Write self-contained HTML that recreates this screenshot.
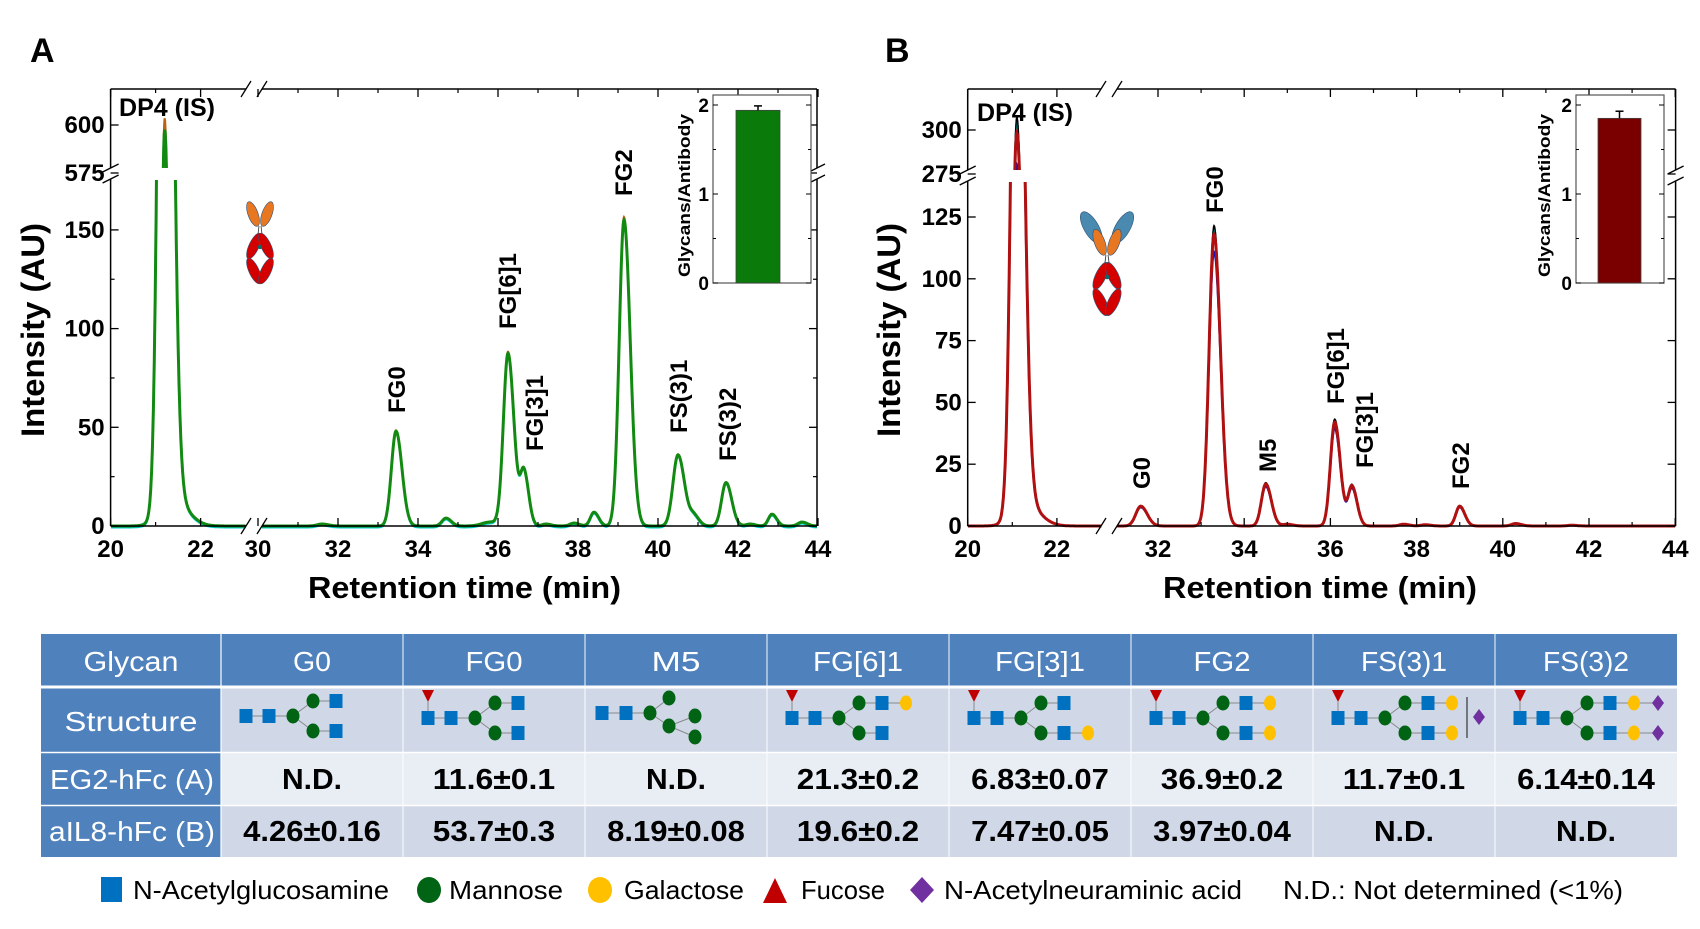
<!DOCTYPE html>
<html><head><meta charset="utf-8">
<style>
html,body{margin:0;padding:0;background:#fff;width:1700px;height:929px;overflow:hidden;}
svg{display:block;}
text{font-family:"Liberation Sans",sans-serif;}
</style></head>
<body>
<svg id="s" width="1700" height="929" viewBox="0 0 1700 929" xmlns="http://www.w3.org/2000/svg">
<defs>
<clipPath id="aLo"><rect x="111" y="180" width="706" height="350"/></clipPath>
<clipPath id="aHi"><rect x="111" y="89" width="706" height="79"/></clipPath>
<clipPath id="bLo"><rect x="968" y="182" width="707" height="348"/></clipPath>
<clipPath id="bHi"><rect x="968" y="89" width="707" height="81"/></clipPath>
</defs>
<g id="plots"></g>
<text x="30" y="62" font-size="34" font-weight="bold">A</text>
<text x="885" y="62" font-size="34" font-weight="bold">B</text>
</svg>
<script>
(function(){
var out=[];
function t(x,y,s,o){o=o||{};var a='<text x="'+x+'" y="'+y+'" font-size="'+(o.fs||22)+'"'+(o.b===false?'':' font-weight="bold"')+(o.anchor?' text-anchor="'+o.anchor+'"':'')+(o.fill?' fill="'+o.fill+'"':'')+(o.tl?' textLength="'+o.tl+'" lengthAdjust="spacingAndGlyphs"':'')+(o.rot?' transform="rotate(-90 '+x+' '+y+')"':'')+'>'+s+'</text>';out.push(a);}
function line(x1,y1,x2,y2,c,w){out.push('<line x1="'+x1+'" y1="'+y1+'" x2="'+x2+'" y2="'+y2+'" stroke="'+(c||'#000')+'" stroke-width="'+(w||1.5)+'"/>');}
function sig(tm,peaks){var v=0;for(var i=0;i<peaks.length;i++){var p=peaks[i];var d=tm-p[0];var s=d>0?p[2]*1.3:p[2];v+=p[1]*Math.exp(-d*d/(2*s*s));}return v;}
function panel(P){
  var segs=P.segs,cols=P.cols;
  for(var ci=0;ci<cols.length;ci++){
    var col=cols[ci];
    ['lo','hi'].forEach(function(part){
      var d='';
      segs.forEach(function(sg){
        var first=true;
        for(var tm=sg[0];tm<=sg[1]+1e-9;tm+=0.01){
          var v=sig(tm,P.peaks)*col[2];
          var x=P.xm(tm);var y=part=='lo'?P.ylo(v):P.yhi(v);
          if(y<-500)y=-500;
          d+=(first?'M':'L')+x.toFixed(1)+' '+(y+col[1]).toFixed(1);first=false;
        }
      });
      out.push('<path d="'+d+'" fill="none" stroke="'+col[0]+'" stroke-width="'+(col[3]||2.2)+'" clip-path="url(#'+P.id+(part=='lo'?'Lo':'Hi')+')"/>');
    });
  }
  var L=P.L,R=P.R,T=89,B=526,bx1=P.bx1,bx2=P.bx2,by1=P.by1,by2=P.by2;
  line(L,B,bx1,B);line(bx2,B,R,B);line(L,T,bx1,T);line(bx2,T,R,T);
  line(L,T,L,by1);line(L,by2,L,B);line(R,T,R,by1);line(R,by2,R,B);
  [[bx1,B],[bx2,B],[bx1,T],[bx2,T]].forEach(function(p){line(p[0]-5,p[1]+8,p[0]+5,p[1]-8,'#000',1.3);});
  [[L,by1],[L,by2],[R,by1],[R,by2]].forEach(function(p){line(p[0]-8,p[1]+4,p[0]+8,p[1]-4,'#000',1.3);});
  P.xt.forEach(function(v){var x=P.xm(v);line(x,B,x,B-8,'#000',1.3);line(x,T,x,T+8,'#000',1.3);t(x,557,String(v),{anchor:'middle',fs:24});});
  P.xminor.forEach(function(v){var x=P.xm(v);line(x,B,x,B-4,'#000',1.2);line(x,T,x,T+4,'#000',1.2);});
  P.yt.forEach(function(v){var y=P.ylo(v);line(L,y,L+8,y,'#000',1.3);line(R,y,R-8,y,'#000',1.3);t(L-6,y+8,String(v),{anchor:'end',fs:24});});
  P.yth.forEach(function(v){var y=P.yhi(v);line(L,y,L+8,y,'#000',1.3);line(R,y,R-8,y,'#000',1.3);t(L-6,y+8,String(v),{anchor:'end',fs:24});});
  P.yminor.forEach(function(v){var y=P.ylo(v);line(L,y,L+4,y,'#000',1.2);line(R,y,R-4,y,'#000',1.2);});
  t(P.xtitle[0],598,'Retention time (min)',{fs:31,tl:P.xtitle[1]-P.xtitle[0]});
  t(P.ytx,437,'Intensity (AU)',{fs:32,rot:1,tl:214});
  t(P.dp[0],P.dp[2],'DP4 (IS)',{fs:25,tl:P.dp[1]-P.dp[0]});
  P.labels.forEach(function(l){t(l[0]+9,l[1],l[2],{fs:24,rot:1});});
  var I=P.inset;
  out.push('<rect x="'+I.x1+'" y="95" width="'+(I.x2-I.x1)+'" height="188" fill="#fff" stroke="#555" stroke-width="1.2"/>');
  var ym=function(v){return 283-v*89;};
  out.push('<rect x="'+I.b1+'" y="'+ym(I.h)+'" width="'+(I.b2-I.b1)+'" height="'+(283-ym(I.h))+'" fill="'+I.c+'" stroke="#444" stroke-width="0.8"/>');
  var cx=(I.b1+I.b2)/2;line(cx,ym(I.h),cx,ym(I.e),'#000',1.5);line(cx-4,ym(I.e),cx+4,ym(I.e),'#000',1.5);
  [0,1,2].forEach(function(v){line(I.x1,ym(v),I.x1+5,ym(v),'#000',1);line(I.x2,ym(v),I.x2-5,ym(v),'#000',1);t(I.x1-4,ym(v)+7,String(v),{anchor:'end',fs:19});});
  [0.5,1.5].forEach(function(v){line(I.x1,ym(v),I.x1+3,ym(v),'#000',1);line(I.x2,ym(v),I.x2-3,ym(v),'#000',1);});
  t(I.lx+7,277,'Glycans/Antibody',{fs:17,rot:1,tl:163});
}
var xa=function(tm){return tm<26?110.6+(tm-20)*45:258+(tm-30)*40;};
panel({id:'a',L:110.6,R:817,bx1:246,bx2:262,by1:168,by2:179,
 xm:xa,ylo:function(v){return 526-v*1.974;},yhi:function(v){return 173-(v-575)*1.92;},
 segs:[[20,23.0],[30.1,44]],
 peaks:[[21.2,585,0.115],[21.35,15,0.25],[31.6,1,0.12],[33.45,48,0.115],[34.7,4,0.1],[35.8,2,0.2],[36.25,87,0.115],[36.65,27,0.09],[37.2,1,0.1],[37.9,1.5,0.1],[38.4,7,0.09],[39.15,155,0.12],[40.5,36,0.125],[40.9,5,0.1],[41.7,22,0.11],[42.3,1,0.1],[42.85,6,0.09],[43.6,2,0.1]],
 cols:[['#00d0d0',1.5,1.0,2],['#c06010',0,1.01,2],['#128a12',0,1.0,3]],
 xt:[20,22,30,32,34,36,38,40,42,44],xminor:[21,31,33,35,37,39,41,43],
 yt:[0,50,100,150],yth:[575,600],yminor:[25,75,125],
 xtitle:[308,621],ytx:44,dp:[119,215,116],
 labels:[[396,413,'FG0'],[507,329,'FG[6]1'],[534,451,'FG[3]1'],[623,196,'FG2'],[678,433,'FS(3)1'],[727,461,'FS(3)2']],
 inset:{x1:713,x2:811,b1:736,b2:780,h:1.94,e:1.99,c:'#0a7a0a',lx:683}
});
var xb=function(tm){return tm<26?967.7+(tm-20)*44.6:1158+(tm-32)*43.1;};
panel({id:'b',L:967.7,R:1675.6,bx1:1101,bx2:1117,by1:170,by2:181,
 xm:xb,ylo:function(v){return 526-v*2.472;},yhi:function(v){return 174-(v-275)*1.76;},
 segs:[[20,23.0],[31.05,44]],
 peaks:[[21.1,290,0.115],[21.25,10,0.25],[31.6,8,0.115],[33.3,118,0.115],[34.5,17,0.1],[35.0,0.7,0.1],[36.1,42,0.1],[36.5,16,0.09],[37.7,0.7,0.1],[38.2,0.5,0.1],[39.0,8,0.09],[40.3,1,0.1],[41.6,0.3,0.1]],
 cols:[['#1010c0',0,0.94,2],['#00c0c0',0,1.02,2],['#000',0,1.03,1.5],['#b01010',0,1.0,3]],
 xt:[20,22,32,34,36,38,40,42,44],xminor:[21,33,35,37,39,41,43],
 yt:[0,25,50,75,100,125],yth:[275,300],yminor:[],
 xtitle:[1163,1477],ytx:900,dp:[977,1073,121],
 labels:[[1141,489,'G0'],[1214,213,'FG0'],[1267,472,'M5'],[1335,404,'FG[6]1'],[1364,468,'FG[3]1'],[1460,489,'FG2']],
 inset:{x1:1576,x2:1664,b1:1598,b2:1641,h:1.85,e:1.93,c:'#7a0000',lx:1543}
});
function ab(x,y,s,b){
 var g='<g transform="translate('+x+','+y+') scale('+s+')">';
 if(b){g+='<ellipse cx="-15" cy="-8" rx="7" ry="17" transform="rotate(-30 -15 -8)" fill="#4a8ab0" stroke="#357" stroke-width="0.6"/><ellipse cx="15" cy="-8" rx="7" ry="17" transform="rotate(30 15 -8)" fill="#4a8ab0" stroke="#357" stroke-width="0.6"/>';}
 g+='<ellipse cx="-7" cy="6" rx="5" ry="13" transform="rotate(-20 -7 6)" fill="#e87722" stroke="#357" stroke-width="0.6"/><ellipse cx="7" cy="6" rx="5" ry="13" transform="rotate(20 7 6)" fill="#e87722" stroke="#357" stroke-width="0.6"/>';
 g+='<line x1="-1" y1="18" x2="-2" y2="26" stroke="#333" stroke-width="0.8"/><line x1="1" y1="18" x2="2" y2="26" stroke="#333" stroke-width="0.8"/>';
 g+='<ellipse cx="-6" cy="38" rx="5" ry="14" transform="rotate(25 -6 38)" fill="#d40000" stroke="#357" stroke-width="0.6"/><ellipse cx="6" cy="38" rx="5" ry="14" transform="rotate(-25 6 38)" fill="#d40000" stroke="#357" stroke-width="0.6"/>';
 g+='<ellipse cx="-6" cy="63" rx="5" ry="14" transform="rotate(-25 -6 63)" fill="#d40000" stroke="#357" stroke-width="0.6"/><ellipse cx="6" cy="63" rx="5" ry="14" transform="rotate(25 6 63)" fill="#d40000" stroke="#357" stroke-width="0.6"/>';
 g+='<circle cx="0" cy="39" r="2.2" fill="#0a6a6a"/></g>';out.push(g);}
ab(260,208,1,false);ab(1107,236,1.05,true);

var X0=41,X1=221,XE=1677,W=182;
var rows=[[634,686,'#4f81bd'],[688,752,'#d0d8e8'],[753,805,'#e9edf4'],[806,857,'#d0d8e8']];
rows.forEach(function(r){out.push('<rect x="'+X1+'" y="'+r[0]+'" width="'+(XE-X1)+'" height="'+(r[1]-r[0])+'" fill="'+r[2]+'"/>');out.push('<rect x="'+X0+'" y="'+r[0]+'" width="'+(X1-X0)+'" height="'+(r[1]-r[0])+'" fill="#4f81bd"/>');});
for(var i=1;i<8;i++){var x=X1+i*W;out.push('<line x1="'+x+'" y1="634" x2="'+x+'" y2="857" stroke="#fff" stroke-width="1.2" opacity="0.8"/>');}
out.push('<line x1="'+X1+'" y1="634" x2="'+X1+'" y2="857" stroke="#fff" stroke-width="1.2"/>');
[752.5,805.5].forEach(function(y){out.push('<line x1="41" y1="'+y+'" x2="1677" y2="'+y+'" stroke="#fff" stroke-width="1.5"/>');});
out.push('<line x1="41" y1="687" x2="1677" y2="687" stroke="#fff" stroke-width="3"/>');
var hdr=['G0','FG0','M5','FG[6]1','FG[3]1','FG2','FS(3)1','FS(3)2'];
var hw=[38,57,49,90,90,57,86,86];
var ra=['N.D.','11.6±0.1','N.D.','21.3±0.2','6.83±0.07','36.9±0.2','11.7±0.1','6.14±0.14'];
var rb=['4.26±0.16','53.7±0.3','8.19±0.08','19.6±0.2','7.47±0.05','3.97±0.04','N.D.','N.D.'];
function cw(s,base){return s=='N.D.'?60:(s.length*base);}
t(131,671,'Glycan',{fs:28,b:false,anchor:'middle',fill:'#fff',tl:95});
t(131,731,'Structure',{fs:28,b:false,anchor:'middle',fill:'#fff',tl:133});
t(132,789,'EG2-hFc (A)',{fs:28,b:false,anchor:'middle',fill:'#fff',tl:164});
t(132,841,'aIL8-hFc (B)',{fs:28,b:false,anchor:'middle',fill:'#fff',tl:166});
hdr.forEach(function(h,i){var cx=X1+i*W+W/2;t(cx,671,h,{fs:28,b:false,anchor:'middle',fill:'#fff',tl:hw[i]});
 t(cx,789,ra[i],{fs:29,anchor:'middle',tl:cw(ra[i],15.3)});
 t(cx,841,rb[i],{fs:29,anchor:'middle',tl:cw(rb[i],15.3)});});
function sq(x,y){out.push('<rect x="'+(x-6.5)+'" y="'+(y-7)+'" width="13" height="14" fill="#0070c0"/>');}
function man(x,y){out.push('<ellipse cx="'+x+'" cy="'+y+'" rx="6.5" ry="7.5" fill="#006414"/>');}
function gal(x,y){out.push('<ellipse cx="'+x+'" cy="'+y+'" rx="6" ry="7.5" fill="#ffc000"/>');}
function dia(x,y){out.push('<polygon points="'+x+','+(y-8)+' '+(x+6)+','+y+' '+x+','+(y+8)+' '+(x-6)+','+y+'" fill="#7030a0"/>');}
function fuc(x,y){out.push('<line x1="'+x+'" y1="'+y+'" x2="'+x+'" y2="'+(y+16)+'" stroke="#888" stroke-width="1"/><polygon points="'+(x-6)+','+(y-12)+' '+(x+6)+','+(y-12)+' '+x+','+y+'" fill="#c00000"/>');}
function ln(a,b,c,d){out.push('<line x1="'+a+'" y1="'+b+'" x2="'+c+'" y2="'+d+'" stroke="#888" stroke-width="1"/>');}
function glycan(i,opt){
 var L=X1+i*W, cy=opt.fuc?718:716, up=cy-15, dn=cy+15;
 var x1=L+25,x2=L+48,xm=L+72,xb=L+92,xs=L+115,xg=L+139,xd=L+163;
 ln(x1,cy,xm,cy);ln(xm,cy,xb,up);ln(xm,cy,xb,dn);
 var ue=opt.u,de=opt.d;
 ln(xb,up,[xb,xs,xg,xd][ue],up);ln(xb,dn,[xb,xs,xg,xd][de],dn);
 if(opt.fuc)fuc(x1,cy-16);
 sq(x1,cy);sq(x2,cy);man(xm,cy);man(xb,up);man(xb,dn);
 if(ue>=1)sq(xs,up);if(de>=1)sq(xs,dn);
 if(ue>=2)gal(xg,up);if(de>=2)gal(xg,dn);
 if(ue>=3)dia(xd,up);if(de>=3)dia(xd,dn);
 if(opt.fs1){out.push('<line x1="'+(L+154)+'" y1="697" x2="'+(L+154)+'" y2="738" stroke="#333" stroke-width="1.2"/>');dia(L+166,717);}
}
glycan(0,{u:1,d:1});
glycan(1,{fuc:1,u:1,d:1});
(function(){var L=X1+2*W;var cy=713;ln(L+17,cy,L+65,cy);ln(L+65,cy,L+84,698);ln(L+65,cy,L+84,726);ln(L+84,726,L+110,716);ln(L+84,726,L+110,737);
 sq(L+17,cy);sq(L+41,cy);man(L+65,cy);man(L+84,698);man(L+84,726);man(L+110,716);man(L+110,737);})();
glycan(3,{fuc:1,u:2,d:1});
glycan(4,{fuc:1,u:1,d:2});
glycan(5,{fuc:1,u:2,d:2});
glycan(6,{fuc:1,u:2,d:2,fs1:1});
glycan(7,{fuc:1,u:3,d:3});
out.push('<rect x="101" y="877" width="21" height="25" fill="#0070c0"/>');
t(133,899,'N-Acetylglucosamine',{fs:26,b:false,tl:256});
out.push('<ellipse cx="429" cy="890" rx="12" ry="13" fill="#006414"/>');
t(449,899,'Mannose',{fs:26,b:false,tl:114});
out.push('<ellipse cx="600" cy="890" rx="12" ry="13" fill="#ffc000"/>');
t(624,899,'Galactose',{fs:26,b:false,tl:120});
out.push('<polygon points="763,903 787,903 775,878" fill="#c00000"/>');
t(801,899,'Fucose',{fs:26,b:false,tl:84});
out.push('<polygon points="922,877 934,890 922,903 910,890" fill="#7030a0"/>');
t(944,899,'N-Acetylneuraminic acid',{fs:26,b:false,tl:298});
t(1283,899,'N.D.: Not determined (&lt;1%)',{fs:26,b:false,tl:340});
document.getElementById('plots').innerHTML=out.join('');
})();
</script>
</body></html>
